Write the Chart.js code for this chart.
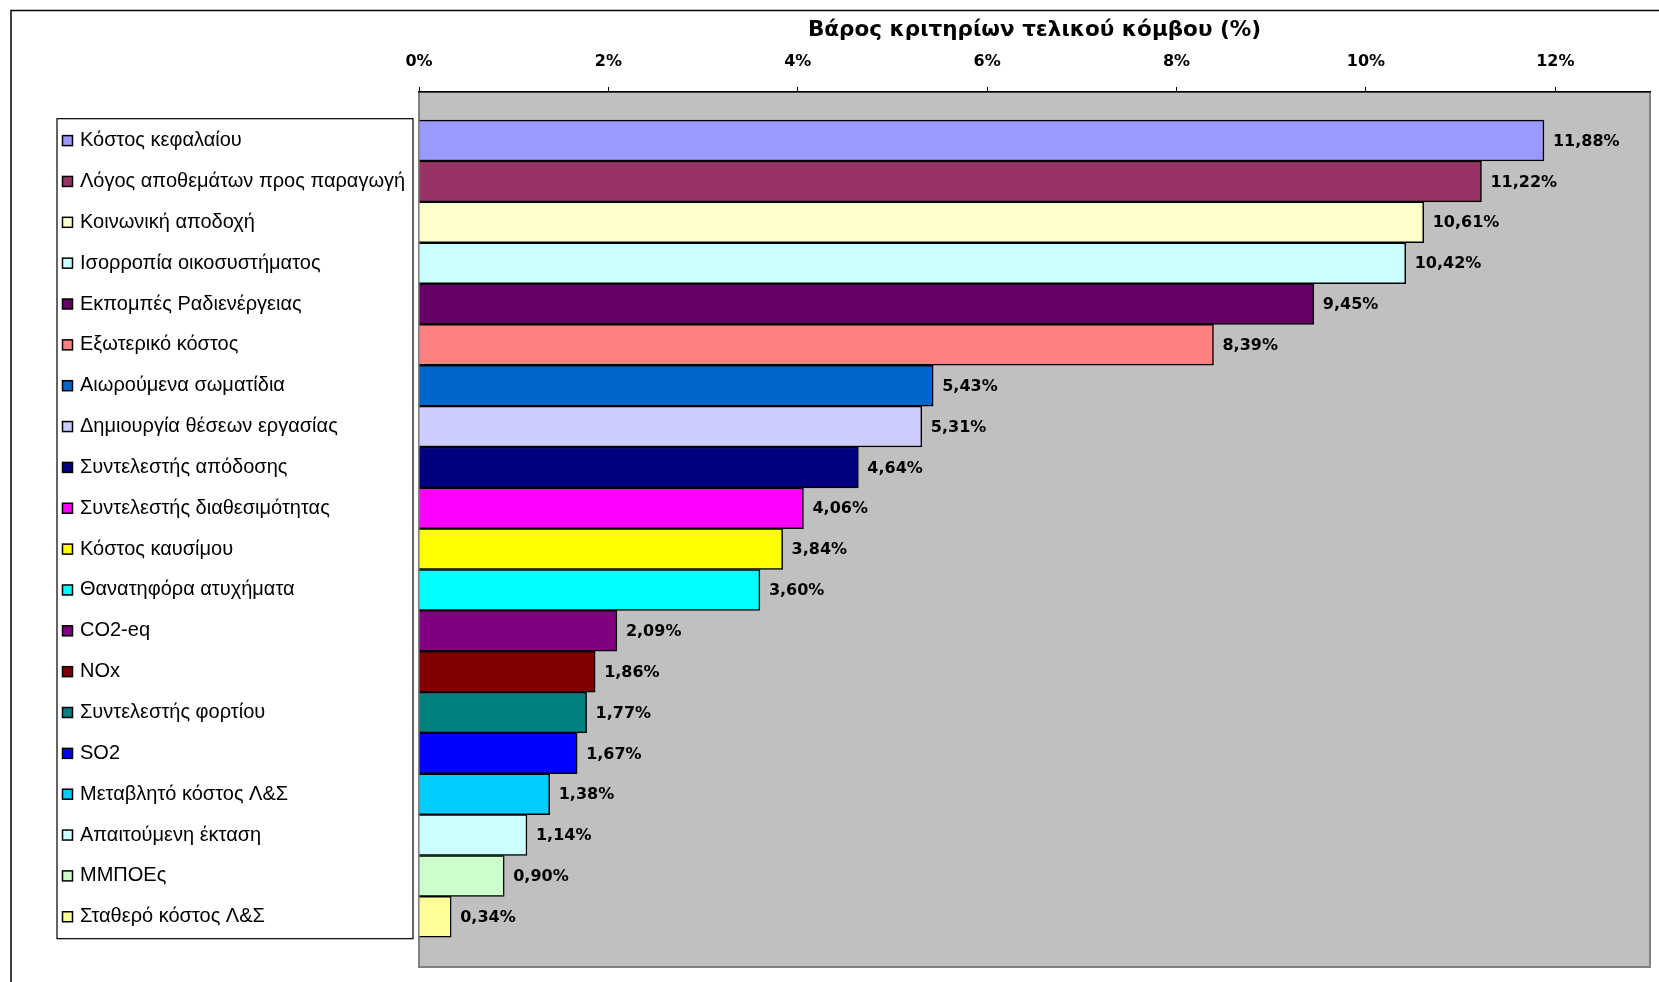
<!DOCTYPE html>
<html>
<head>
<meta charset="utf-8">
<script src="https://cdn.jsdelivr.net/npm/chart.js@4.4.1/dist/chart.umd.min.js"></script>
<style>
    html, body { margin: 0; padding: 0; background: #fff; }
    #wrap { position: relative; width: 1659px; height: 982px; }
</style>
</head>
<body>
<div id="wrap"><canvas id="weights-chart"></canvas></div>
<script>
const chartTitle = "Βάρος κριτηρίων τελικού κόμβου (%)";

const categories = [
    "Κόστος κεφαλαίου",
    "Λόγος αποθεμάτων προς παραγωγή",
    "Κοινωνική αποδοχή",
    "Ισορροπία οικοσυστήματος",
    "Εκπομπές Ραδιενέργειας",
    "Εξωτερικό κόστος",
    "Αιωρούμενα σωματίδια",
    "Δημιουργία θέσεων εργασίας",
    "Συντελεστής απόδοσης",
    "Συντελεστής διαθεσιμότητας",
    "Κόστος καυσίμου",
    "Θανατηφόρα ατυχήματα",
    "CO2-eq",
    "NOx",
    "Συντελεστής φορτίου",
    "SO2",
    "Μεταβλητό κόστος Λ&Σ",
    "Απαιτούμενη έκταση",
    "ΜΜΠΟΕς",
    "Σταθερό κόστος Λ&Σ",
];

const weights = [
    11.88, 11.22, 10.61, 10.42, 9.45, 8.39, 5.43, 5.31, 4.64, 4.06,
    3.84, 3.60, 2.09, 1.86, 1.77, 1.67, 1.38, 1.14, 0.90, 0.34,
];

const barColors = [
    "#9999ff", "#993366", "#ffffcc", "#ccffff", "#660066",
    "#ff8080", "#0066cc", "#ccccff", "#000080", "#ff00ff",
    "#ffff00", "#00ffff", "#800080", "#800000", "#008080",
    "#0000ff", "#00ccff", "#ccffff", "#ccffcc", "#ffff99",
];

function formatPercent(value) {
    return value.toFixed(2).replace(".", ",") + "%";
}

// white page, outer frame and the grey plot area
const plotBackground = {
    id: "plotBackground",
    beforeDraw(chart) {
        const { ctx, chartArea: area } = chart;
        ctx.save();
        ctx.fillStyle = "#fff";
        ctx.fillRect(0, 0, chart.width, chart.height);
        ctx.strokeStyle = "#000";
        ctx.lineWidth = 1.5;
        ctx.strokeRect(11, 10.5, chart.width + 20, chart.height + 20);
        ctx.fillStyle = "#c0c0c0";
        ctx.fillRect(area.left, area.top, area.width, area.height);
        ctx.strokeStyle = "#808080";
        ctx.lineWidth = 2;
        ctx.strokeRect(area.left, area.top, area.width, area.height);
        ctx.restore();
    },
};

// value labels right of each bar
const valueLabels = {
    id: "valueLabels",
    afterDatasetsDraw(chart) {
        const { ctx } = chart;
        const meta = chart.getDatasetMeta(0);
        ctx.save();
        ctx.font = "bold 16px 'DejaVu Sans'";
        ctx.fillStyle = "#000";
        ctx.textBaseline = "middle";
        ctx.textAlign = "left";
        meta.data.forEach((bar, i) => {
            ctx.fillText(formatPercent(weights[i]), bar.x + 9, bar.y + 1);
        });
        ctx.restore();
    },
};

// legend box with colour keys next to the category labels
const legendKeys = {
    id: "legendKeys",
    afterDraw(chart) {
        const { ctx } = chart;
        const y = chart.scales.y;
        const top = y.getPixelForValue(-0.5);
        const bottom = y.getPixelForValue(categories.length - 0.5);
        ctx.save();
        ctx.strokeStyle = "#000";
        ctx.lineWidth = 1.2;
        ctx.strokeRect(57, top - 1.5, 356, bottom - top + 3);
        ctx.lineWidth = 1.5;
        categories.forEach((name, i) => {
            const py = y.getPixelForValue(i);
            ctx.fillStyle = barColors[i];
            ctx.fillRect(62.5, py - 5, 10, 10);
            ctx.strokeRect(62.5, py - 5, 10, 10);
        });
        ctx.restore();
    },
};

new Chart(document.getElementById("weights-chart"), {
    type: "bar",
    data: {
        datasets: [
            {
                label: chartTitle,
                data: weights.map((v, i) => ({ x: v, y: i })),
                backgroundColor: barColors,
                borderColor: "#000",
                borderWidth: 1.5,
                barPercentage: 1,
                categoryPercentage: 1,
            },
        ],
    },
    options: {
        indexAxis: "y",
        responsive: true,
        maintainAspectRatio: false,
        animation: false,
        layout: { padding: { left: 80, right: 9, top: 0, bottom: 15 } },
        plugins: {
            legend: { display: false },
            tooltip: { enabled: false },
        },
        scales: {
            x: {
                type: "linear",
                position: "top",
                min: 0,
                max: 13,
                ticks: {
                    stepSize: 2,
                    includeBounds: false,
                    padding: 16,
                    color: "#000",
                    font: { family: "DejaVu Sans", weight: "bold", size: 16 },
                    callback(value) {
                        return `${value}%`;
                    },
                },
                grid: { drawOnChartArea: false, tickLength: 5, tickColor: "#000" },
                border: { color: "#000", width: 1.5 },
                title: {
                    display: true,
                    text: chartTitle,
                    color: "#000",
                    font: { family: "DejaVu Sans", weight: "bold", size: 21.5 },
                    padding: { top: 18, bottom: 0 },
                },
                afterFit(scale) {
                    scale.height = 92;
                },
            },
            y: {
                type: "linear",
                offset: false,
                reverse: true,
                min: -1.19,
                max: 20.23,
                ticks: {
                    stepSize: 1,
                    includeBounds: false,
                    autoSkip: false,
                    crossAlign: "far",
                    padding: 0,
                    color: "#000",
                    font: { family: "Liberation Sans", size: 20 },
                    callback(value) {
                        return categories[value] ?? "";
                    },
                },
                grid: { display: false, offset: false },
                border: { display: false },
                afterFit(scale) {
                    scale.width = 339;
                },
            },
        },
    },
    plugins: [plotBackground, valueLabels, legendKeys],
});
</script>
</body>
</html>
